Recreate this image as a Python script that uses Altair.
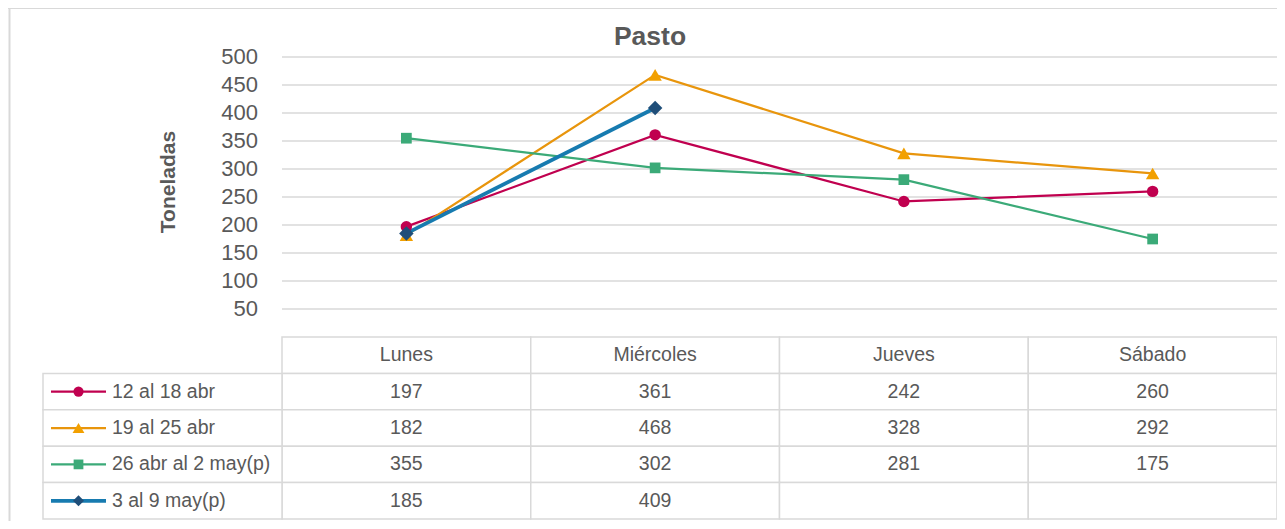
import altair as alt
import pandas as pd

days = ["Lunes", "Miércoles", "Jueves", "Sábado"]
series = ["12 al 18 abr", "19 al 25 abr", "26 abr al 2 may(p)", "3 al 9 may(p)"]
v1 = [197, 361, 242, 260]
v2 = [182, 468, 328, 292]
v3 = [355, 302, 281, 175]
v4 = [185, 409, None, None]
y_ticks = [50, 100, 150, 200, 250, 300, 350, 400, 450, 500]

line_colors = ["#C0004F", "#E8950C", "#3BAA78", "#177BB0"]
marker_colors = ["#C0004F", "#F2A000", "#3BAA78", "#1F4E79"]
shapes = ["circle", "triangle-up", "square", "diamond"]
sizes = [130, 180, 115, 210]
leg_sizes = [105, 140, 95, 120]
widths = [2.25, 2.25, 2.25, 3.75]

FONT = "Liberation Sans"
GREY = "#595959"
BORDER = "#d9d9d9"
ROWS = ["hdr"] + series
W, H = 1269, 513
X0, X1 = 274, 1269

rows = []
for s, vals in zip(series, [v1, v2, v3, v4]):
    for d, v in zip(days, vals):
        rows.append({"series": s, "day": d, "value": v,
                     "label": "" if v is None else str(v)})
df = pd.DataFrame(rows)
df_ticks = pd.DataFrame({"value": y_ticks, "label": [str(t) for t in y_ticks]})
df_hdr = pd.DataFrame({"day": days, "row": ["hdr"] * len(days)})
df_leg = pd.DataFrame({"series": series, "row": series})

x_scale = alt.Scale(type="band", domain=days, range=[X0, X1],
                    paddingInner=0, paddingOuter=0)
y_scale = alt.Scale(type="linear", domain=[0, 500], range=[329, 49], nice=False, zero=False)
row_scale = alt.Scale(type="band", domain=ROWS, range=[329, 511],
                      paddingInner=0, paddingOuter=0)

X = alt.X("day:N", scale=x_scale, sort=days, axis=None)
Y = alt.Y("value:Q", scale=y_scale, axis=None)
R = alt.Y("row:N", scale=row_scale, sort=ROWS, axis=None, bandPosition=0.5)
Rrect = alt.Y("row:N", scale=row_scale, sort=ROWS, axis=None)
S = alt.Y("series:N", scale=row_scale, sort=ROWS, axis=None, bandPosition=0.5)
Srect = alt.Y("series:N", scale=row_scale, sort=ROWS, axis=None)

# ---- top chart layers ----
grid = alt.Chart(df_ticks).mark_rule(color=BORDER, strokeWidth=1.5).encode(
    y=Y, x=alt.value(X0), x2=alt.value(X1))
tick_labels = alt.Chart(df_ticks).mark_text(
    align="right", baseline="middle", font=FONT, fontSize=22, color=GREY).encode(
    y=Y, x=alt.value(250), text="label:N")

series_layers = []
for i, s in enumerate(series):
    d = df[(df["series"] == s) & df["value"].notna()]
    series_layers.append(alt.Chart(d).transform_calculate(
        idx="indexof(%s, datum.day)" % str(days)
    ).mark_line(color=line_colors[i], strokeWidth=widths[i]).encode(
        x=X, y=Y, order=alt.Order("idx:Q")))
for i, s in enumerate(series):
    d = df[(df["series"] == s) & df["value"].notna()]
    series_layers.append(alt.Chart(d).mark_point(
        filled=True, opacity=1, strokeWidth=0, shape=shapes[i], size=sizes[i],
        fill=marker_colors[i], color=marker_colors[i]).encode(x=X, y=Y))

title = alt.Chart(pd.DataFrame({"t": ["Pasto"]})).mark_text(
    font=FONT, fontSize=26.5, fontWeight="bold", color=GREY, baseline="middle", align="center").encode(
    x=alt.value(642), y=alt.value(29), text="t:N")
ytitle = alt.Chart(pd.DataFrame({"t": ["Toneladas"]})).mark_text(
    font=FONT, fontSize=21, fontWeight="bold", color=GREY, baseline="middle", align="center",
    angle=270).encode(x=alt.value(161), y=alt.value(174), text="t:N")
frame_left = alt.Chart(pd.DataFrame({"a": [0]})).mark_rule(color=BORDER, strokeWidth=2).encode(
    x=alt.value(1.5), y=alt.value(0), y2=alt.value(H))
frame_top = alt.Chart(pd.DataFrame({"a": [0]})).mark_rule(color=BORDER, strokeWidth=2).encode(
    x=alt.value(0), x2=alt.value(W), y=alt.value(0))

top = alt.layer(frame_left, frame_top, grid, tick_labels, *series_layers, title, ytitle)

# ---- table layers ----
hdr_cells = alt.Chart(df_hdr).mark_rect(fill="white", stroke=BORDER, strokeWidth=1.5).encode(
    x=X, y=Rrect)
val_cells = alt.Chart(df).mark_rect(fill="white", stroke=BORDER, strokeWidth=1.5).encode(
    x=X, y=Srect)
leg_cells = alt.Chart(df_leg).mark_rect(fill="white", stroke=BORDER, strokeWidth=1.5).encode(
    x=alt.value(35), x2=alt.value(X0), y=Rrect)

leg_layers = []
for i, s in enumerate(series):
    d = df_leg[df_leg["series"] == s]
    leg_layers.append(alt.Chart(d).mark_rule(color=line_colors[i], strokeWidth=widths[i]).encode(
        x=alt.value(43), x2=alt.value(98), y=R))
    leg_layers.append(alt.Chart(d).mark_point(
        filled=True, opacity=1, strokeWidth=0, shape=shapes[i], size=leg_sizes[i],
        fill=marker_colors[i], color=marker_colors[i]).encode(x=alt.value(70.5), y=R))

leg_text = alt.Chart(df_leg).mark_text(
    align="left", baseline="middle", font=FONT, fontSize=19.5, color=GREY).encode(
    x=alt.value(104), y=R, text="series:N")
hdr_text = alt.Chart(df_hdr).mark_text(
    align="center", baseline="middle", font=FONT, fontSize=19.5, color=GREY).encode(
    x=X, y=R, text="day:N")
val_text = alt.Chart(df).mark_text(
    align="center", baseline="middle", font=FONT, fontSize=19.5, color=GREY).encode(
    x=X, y=S, text="label:N")

table = alt.layer(hdr_cells, val_cells, leg_cells, *leg_layers, leg_text, hdr_text, val_text)

chart = alt.layer(top, table).resolve_scale(y="independent").properties(
    width=W, height=H,
    autosize=alt.AutoSizeParams(type="none"),
    padding={"left": 0, "top": 0, "right": 0, "bottom": 0},
).configure_view(stroke=None)

chart.save("out.html", embed_options={"renderer": "svg", "actions": False})
